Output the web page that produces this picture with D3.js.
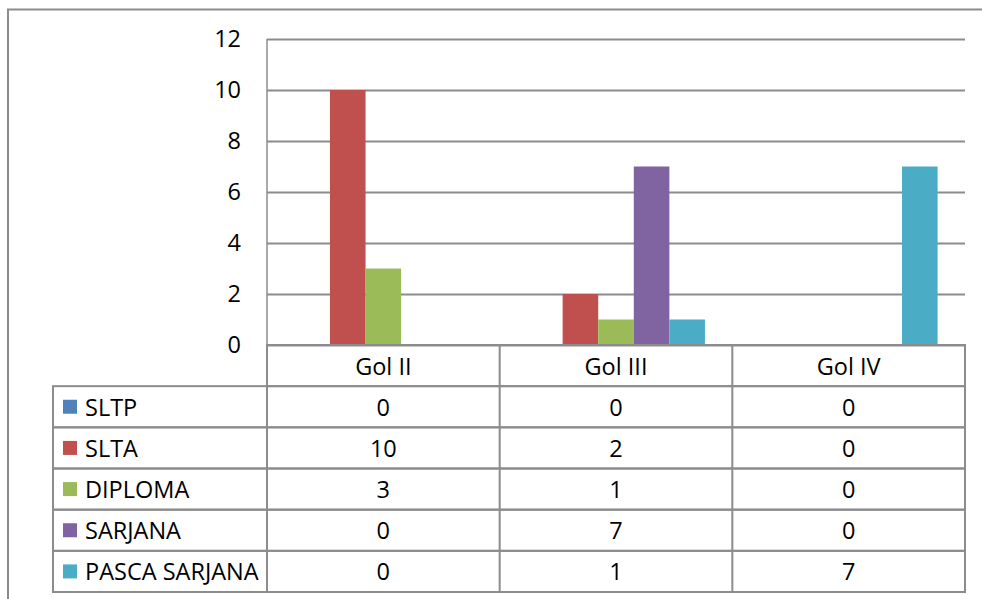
<!DOCTYPE html>
<html>
<head>
<meta charset="utf-8">
<script src="https://cdn.jsdelivr.net/npm/d3@7"></script>
<style>
  body { margin: 0; background: #fff; }
  svg text { font-family: "Open Sans", Lato, sans-serif; fill: #000; }
</style>
</head>
<body>
<div id="chart"></div>
<script>
// Data
const categories = ["Gol II", "Gol III", "Gol IV"];
const seriesNames = ["SLTP", "SLTA", "DIPLOMA", "SARJANA", "PASCA SARJANA"];
const sltp = [0, 0, 0];
const slta = [10, 2, 0];
const diploma = [3, 1, 0];
const sarjana = [0, 7, 0];
const pascaSarjana = [0, 1, 7];
const yTicks = [0, 2, 4, 6, 8, 10, 12];
const colors = ["#4F81BD", "#C0504D", "#9BBB59", "#8064A2", "#4BACC6"];

const seriesValues = [sltp, slta, diploma, sarjana, pascaSarjana];

// Dimensions
const W = 982, H = 599;
const plot = { left: 267, right: 965, top: 39, bottom: 345 };
const tableLeft = 53, tableBottom = 592;
const gridColor = "#8c8c8c";
const fontSize = 23.5;
const fontFamily = "'Open Sans', Lato, sans-serif";

const svg = d3.select("#chart")
  .append("svg")
  .attr("width", W)
  .attr("height", H);

// Outer frame (cropped on right and bottom)
svg.append("rect")
  .attr("x", 8).attr("y", 9.5)
  .attr("width", 990).attr("height", 620)
  .attr("fill", "none")
  .attr("stroke", gridColor)
  .attr("stroke-width", 2);

// Scales
const y = d3.scaleLinear().domain([0, 12]).range([plot.bottom, plot.top]);
const x0 = d3.scaleBand().domain(categories).range([plot.left, plot.right]);
const x1 = d3.scaleBand().domain(seriesNames)
  .range([0, x0.bandwidth()])
  .paddingInner(0)
  .paddingOuter(0.77);

// Gridlines + y axis
const yAxis = svg.append("g")
  .attr("transform", `translate(${plot.left},0)`)
  .call(d3.axisLeft(y).tickValues(yTicks)
    .tickSize(-(plot.right - plot.left))
    .tickPadding(26));
yAxis.select(".domain").remove();
yAxis.selectAll(".tick line")
  .attr("stroke", gridColor)
  .attr("stroke-width", 1.8);
yAxis.selectAll(".tick text")
  .style("font-size", fontSize + "px")
  .style("font-family", fontFamily);

svg.append("line")
  .attr("x1", plot.left).attr("x2", plot.left)
  .attr("y1", plot.top).attr("y2", plot.bottom)
  .attr("stroke", gridColor)
  .attr("stroke-width", 1.5);

// Bars
const bars = [];
seriesNames.forEach((s, i) => {
  categories.forEach((c, j) => {
    bars.push({ series: s, cat: c, value: seriesValues[i][j], color: colors[i] });
  });
});

svg.selectAll(".bar")
  .data(bars)
  .enter()
  .append("rect")
  .attr("class", "bar")
  .attr("x", d => x0(d.cat) + x1(d.series))
  .attr("y", d => y(d.value))
  .attr("width", x1.bandwidth())
  .attr("height", d => y(0) - y(d.value))
  .attr("fill", d => d.color);

// Data table
const rows = d3.scaleBand()
  .domain(["header", ...seriesNames])
  .range([plot.bottom, tableBottom]);

const table = svg.append("g");

// header row (categories)
table.append("rect")
  .attr("x", plot.left).attr("y", rows("header"))
  .attr("width", plot.right - plot.left).attr("height", rows.bandwidth())
  .attr("fill", "none").attr("stroke", gridColor).attr("stroke-width", 2);

table.selectAll(".cat-label")
  .data(categories)
  .enter()
  .append("text")
  .attr("x", d => x0(d) + x0.bandwidth() / 2)
  .attr("y", rows("header") + rows.bandwidth() / 2)
  .attr("text-anchor", "middle")
  .attr("dominant-baseline", "central")
  .style("font-size", fontSize + "px")
  .text(d => d);

// series rows
seriesNames.forEach((s, i) => {
  const ry = rows(s);
  table.append("rect")
    .attr("x", tableLeft).attr("y", ry)
    .attr("width", plot.right - tableLeft).attr("height", rows.bandwidth())
    .attr("fill", "none").attr("stroke", gridColor).attr("stroke-width", 2);

  table.append("rect")
    .attr("x", 63).attr("y", ry + rows.bandwidth() / 2 - 7)
    .attr("width", 14).attr("height", 14)
    .attr("fill", colors[i]);

  table.append("text")
    .attr("x", 85)
    .attr("y", ry + rows.bandwidth() / 2)
    .attr("dominant-baseline", "central")
    .style("font-size", fontSize + "px")
    .text(s);

  categories.forEach((c, j) => {
    table.append("text")
      .attr("x", x0(c) + x0.bandwidth() / 2)
      .attr("y", ry + rows.bandwidth() / 2)
      .attr("text-anchor", "middle")
      .attr("dominant-baseline", "central")
      .style("font-size", fontSize + "px")
      .text(seriesValues[i][j]);
  });
});

// column dividers
const colEdges = [tableLeft, ...categories.map(c => x0(c)), plot.right];
table.selectAll(".col-line")
  .data(colEdges)
  .enter()
  .append("line")
  .attr("x1", d => d).attr("x2", d => d)
  .attr("y1", d => d === tableLeft ? rows(seriesNames[0]) : plot.bottom)
  .attr("y2", tableBottom)
  .attr("stroke", gridColor)
  .attr("stroke-width", 2);
</script>
</body>
</html>
